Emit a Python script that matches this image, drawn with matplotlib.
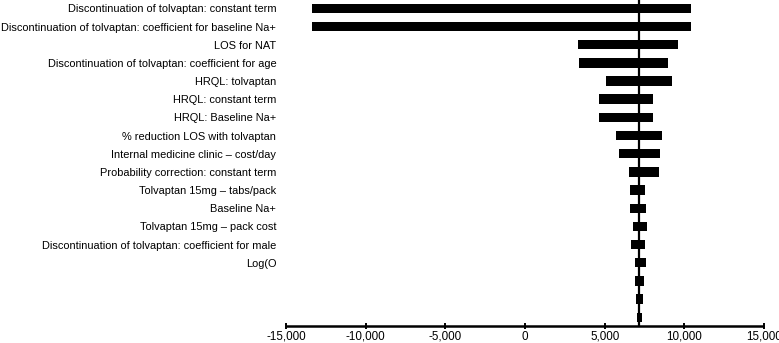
import matplotlib
matplotlib.use('Agg')
import matplotlib.pyplot as plt
from matplotlib.ticker import FuncFormatter

plt.rcParams['font.family'] = ['Liberation Sans', 'DejaVu Sans']

# tornado diagram values (ICER)
labels = ['Discontinuation of tolvaptan: constant term',
          'Discontinuation of tolvaptan: coefficient for baseline Na+',
          'LOS for NAT',
          'Discontinuation of tolvaptan: coefficient for age',
          'HRQL: tolvaptan',
          'HRQL: constant term',
          'HRQL: Baseline Na+',
          '% reduction LOS with tolvaptan',
          'Internal medicine clinic \u2013 cost/day',
          'Probability correction: constant term',
          'Tolvaptan 15mg \u2013 tabs/pack',
          'Baseline Na+',
          'Tolvaptan 15mg \u2013 pack cost',
          'Discontinuation of tolvaptan: coefficient for male',
          'Log(O']
low = [-13360, -13360, 3350, 3410, 5100, 4660, 4660, 5710, 5900,
       6550, 6610, 6610, 6750, 6670, 6880, 6880, 6980, 7030]
high = [10410, 10410, 9620, 8970, 9200, 8050, 8050, 8620, 8490,
        8390, 7550, 7610, 7630, 7550, 7610, 7480, 7380, 7320]
base = 7150
xticks = [-15000, -10000, -5000, 0, 5000, 10000, 15000]

fig = plt.figure(figsize=(7.79, 3.43), dpi=100)
ax = fig.add_axes([0.367, 0.0496, 0.614, 0.9504])

n = len(low)
ypos = list(range(n))
ax.barh(ypos, [h - l for l, h in zip(low, high)], left=low, height=0.52,
        color='black', edgecolor='none')
ax.axvline(base, color='black', lw=1.6, zorder=3)

ax.set_ylim(n - 0.52, -0.46)
ax.set_xlim(-15000, 15000)
ax.set_yticks(ypos[:len(labels)])
ax.set_yticklabels(labels, fontsize=7.95)
ax.tick_params(axis='y', length=0, pad=7)

ax.set_xticks(xticks)
ax.xaxis.set_major_formatter(FuncFormatter(lambda v, p: f'{int(v):,}'))
ax.tick_params(axis='x', direction='inout', length=5, width=1.4, labelsize=8.4, pad=1)

for s in ['top', 'right', 'left']:
    ax.spines[s].set_visible(False)
ax.spines['bottom'].set_linewidth(1.8)
ax.spines['bottom'].set_capstyle('butt')

fig.savefig('out.png', dpi=100)
